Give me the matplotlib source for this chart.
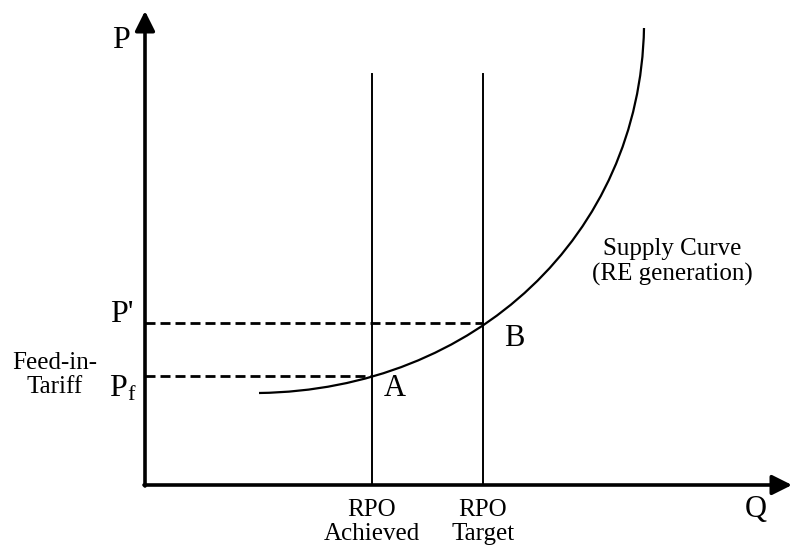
import matplotlib.pyplot as plt
from matplotlib.path import Path
from matplotlib.patches import PathPatch

plt.rcParams['font.family'] = ['Liberation Serif', 'DejaVu Serif']
plt.rcParams['mathtext.fontset'] = 'custom'
plt.rcParams['mathtext.rm'] = 'Liberation Serif'
plt.rcParams['mathtext.it'] = 'Liberation Serif:italic'

# quantities / prices in diagram units
q_achieved = 227
q_target = 338
p_f = 109
p_prime = 162
vline_top = 411
q_axis_end = 647
p_axis_end = 474

# supply curve (cubic bezier control points)
supply_q = [114, 330, 495, 499]
supply_p = [92, 95, 250, 457]

fig = plt.figure(figsize=(7.93, 5.51), dpi=100)
ax = fig.add_axes([0, 0, 1, 1])
ax.set_xlim(-145, 648)
ax.set_ylim(-66, 485)
ax.axis('off')

# axes with arrows
arrow = dict(arrowstyle='-|>,head_length=0.5,head_width=0.25', lw=2.6, color='black',
             mutation_scale=24, shrinkA=0, shrinkB=0)
ax.annotate('', xy=(0, p_axis_end), xytext=(0, -1), arrowprops=arrow)
ax.annotate('', xy=(q_axis_end, 0), xytext=(-1, 0), arrowprops=arrow)

# RPO lines
ax.plot([q_achieved, q_achieved], [0, vline_top], color='black', lw=1.4)
ax.plot([q_target, q_target], [0, vline_top], color='black', lw=1.4)

# price levels
ax.plot([0, q_achieved], [p_f, p_f], color='black', lw=2, dashes=(3.6, 1.8))
ax.plot([0, q_target], [p_prime, p_prime], color='black', lw=2, dashes=(3.6, 1.8))

# supply curve
verts = list(zip(supply_q, supply_p))
path = Path(verts, [Path.MOVETO, Path.CURVE4, Path.CURVE4, Path.CURVE4])
ax.add_patch(PathPatch(path, facecolor='none', edgecolor='black', lw=1.6))

# labels
ax.text(-24, 445, 'P', fontsize=23, ha='center', va='center')
ax.text(-23, 170, "P'", fontsize=23, ha='center', va='center')
ax.text(-8, 96, r'P$_{\mathrm{f}}$', fontsize=23, ha='right', va='center')
ax.text(-90, 110, 'Feed-in-\nTariff', fontsize=18, ha='center', va='center',
        linespacing=1.08)
ax.text(250, 97, 'A', fontsize=22, ha='center', va='center')
ax.text(369, 147, 'B', fontsize=22, ha='center', va='center')
ax.text(611, -25, 'Q', fontsize=22, ha='center', va='center')
ax.text(q_achieved, -37, 'RPO\nAchieved', fontsize=18, ha='center', va='center',
        linespacing=1.15)
ax.text(q_target, -37, 'RPO\nTarget', fontsize=18, ha='center', va='center',
        linespacing=1.15)
ax.text(527, 223, 'Supply Curve\n(RE generation)', fontsize=18, ha='center',
        va='center', linespacing=1.12)

fig.savefig('out.png', dpi=100)
